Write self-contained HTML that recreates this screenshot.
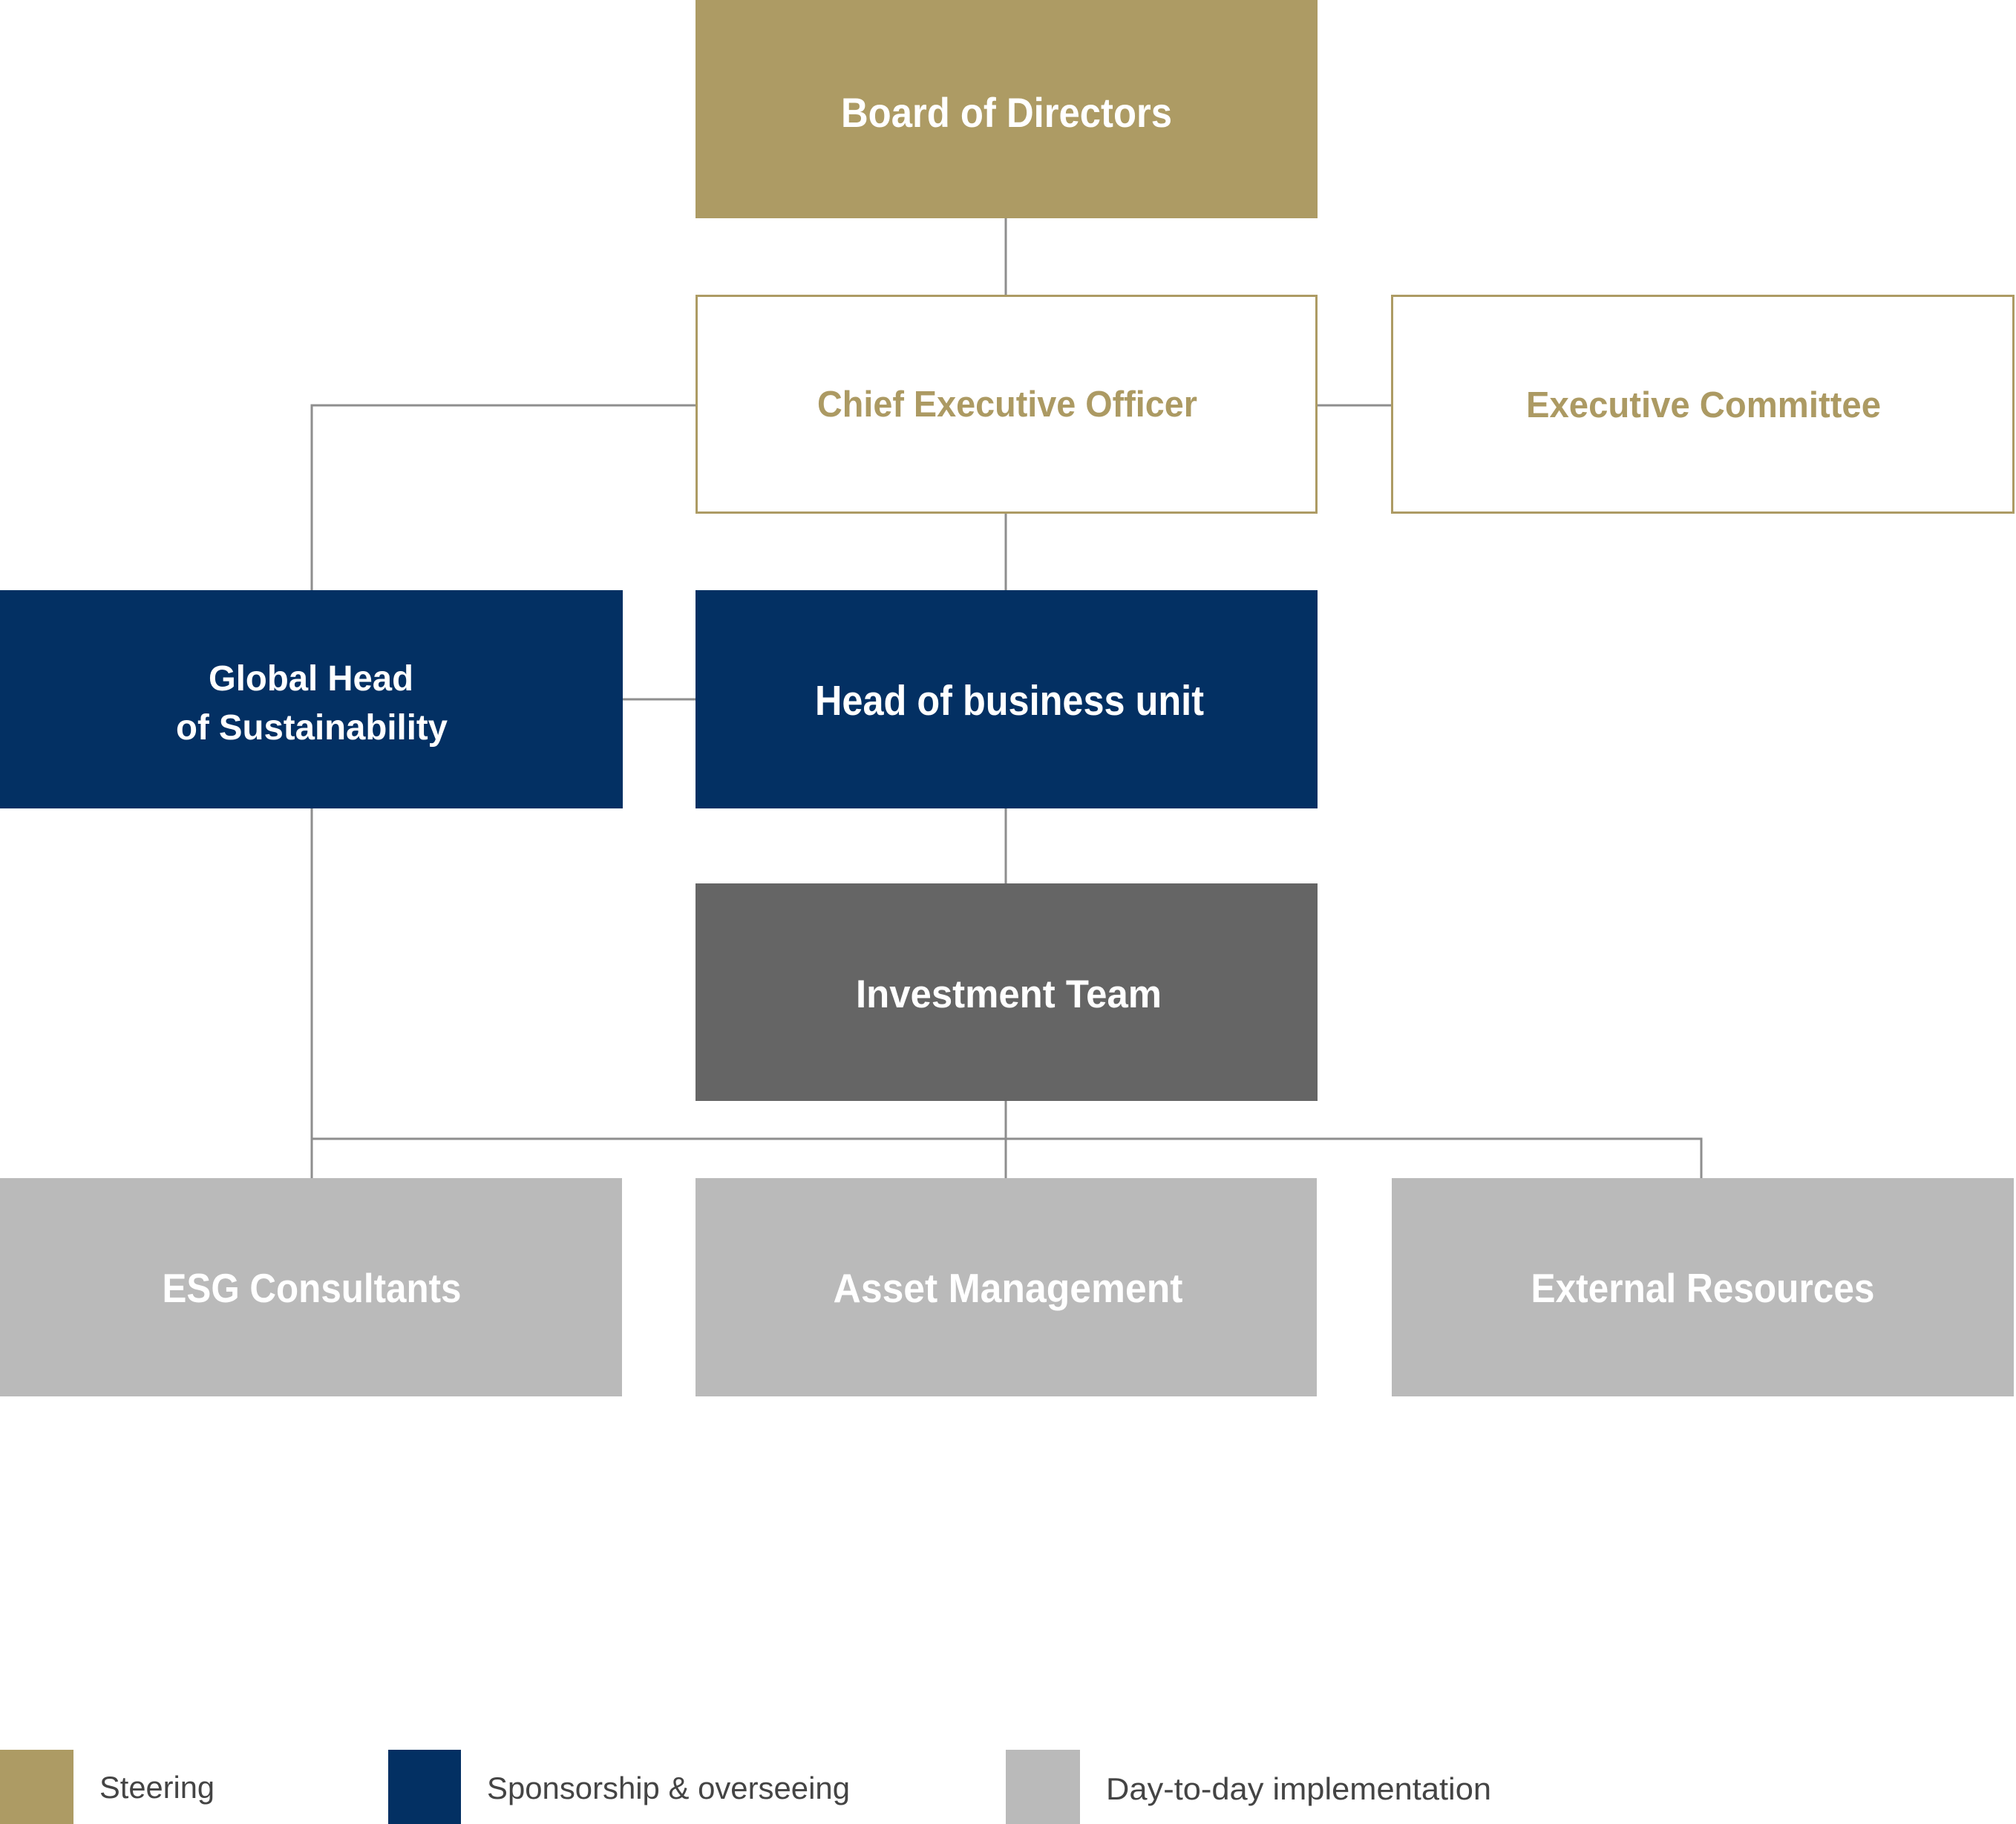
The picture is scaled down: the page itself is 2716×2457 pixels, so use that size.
<!DOCTYPE html>
<html>
<head>
<meta charset="utf-8">
<style>
html,body{margin:0;padding:0;background:#fff;}
svg{display:block;}
text{font-family:"Liberation Sans",Arial,sans-serif;}
</style>
</head>
<body>
<svg width="2716" height="2457" viewBox="0 0 2716 2457" xmlns="http://www.w3.org/2000/svg">
<rect x="0" y="0" width="2716" height="2457" fill="#ffffff"/>
<!-- connectors -->
<g stroke="#8e8e8e" stroke-width="3" fill="none">
  <line x1="1355" y1="294" x2="1355" y2="398"/>
  <polyline points="937,546 420,546 420,795"/>
  <line x1="1775" y1="546" x2="1875" y2="546"/>
  <line x1="1355" y1="691" x2="1355" y2="795"/>
  <line x1="838" y1="942" x2="937" y2="942"/>
  <line x1="1355" y1="1089" x2="1355" y2="1190"/>
  <line x1="420" y1="1089" x2="420" y2="1587"/>
  <line x1="1355" y1="1483" x2="1355" y2="1587"/>
  <polyline points="420,1534 2292,1534 2292,1587"/>
</g>
<!-- boxes -->
<rect x="937" y="0" width="838" height="294" fill="#ad9b64"/>
<rect x="938.5" y="398.5" width="835" height="292" fill="#ffffff" stroke="#ad9b64" stroke-width="3"/>
<rect x="1875.5" y="398.5" width="837" height="292" fill="#ffffff" stroke="#ad9b64" stroke-width="3"/>
<rect x="0" y="795" width="839" height="294" fill="#033063"/>
<rect x="937" y="795" width="838" height="294" fill="#033063"/>
<rect x="937" y="1190" width="838" height="293" fill="#656565"/>
<rect x="0" y="1587" width="838" height="294" fill="#bababa"/>
<rect x="937" y="1587" width="837" height="294" fill="#bababa"/>
<rect x="1875" y="1587" width="838" height="294" fill="#bababa"/>
<!-- labels -->
<g font-weight="bold" text-anchor="middle">
  <text x="1356" y="171" font-size="56" fill="#ffffff" textLength="446" lengthAdjust="spacingAndGlyphs">Board of Directors</text>
  <text x="1357" y="561" font-size="49" fill="#ac9a63" textLength="512" lengthAdjust="spacingAndGlyphs">Chief Executive Officer</text>
  <text x="2295" y="562" font-size="49" fill="#ac9a63" textLength="478" lengthAdjust="spacingAndGlyphs">Executive Committee</text>
  <text x="419" y="930" font-size="48" fill="#ffffff" textLength="276" lengthAdjust="spacingAndGlyphs">Global Head</text>
  <text x="420" y="996" font-size="48" fill="#ffffff" textLength="366" lengthAdjust="spacingAndGlyphs">of Sustainability</text>
  <text x="1360" y="963" font-size="57" fill="#ffffff" textLength="524" lengthAdjust="spacingAndGlyphs">Head of business unit</text>
  <text x="1359" y="1357" font-size="53" fill="#ffffff" textLength="412" lengthAdjust="spacingAndGlyphs">Investment Team</text>
  <text x="420" y="1754" font-size="55" fill="#ffffff" textLength="403" lengthAdjust="spacingAndGlyphs">ESG Consultants</text>
  <text x="1358" y="1754" font-size="55" fill="#ffffff" textLength="471" lengthAdjust="spacingAndGlyphs">Asset Management</text>
  <text x="2294" y="1754" font-size="55" fill="#ffffff" textLength="463" lengthAdjust="spacingAndGlyphs">External Resources</text>
</g>
<!-- legend -->
<rect x="0" y="2357" width="99" height="100" fill="#ad9b64"/>
<rect x="523" y="2357" width="98" height="100" fill="#033063"/>
<rect x="1355" y="2357" width="100" height="100" fill="#bababa"/>
<g font-size="42" fill="#444444">
  <text x="134" y="2422" textLength="155" lengthAdjust="spacingAndGlyphs">Steering</text>
  <text x="656" y="2423" textLength="489" lengthAdjust="spacingAndGlyphs">Sponsorship &amp; overseeing</text>
  <text x="1490" y="2424" textLength="519" lengthAdjust="spacingAndGlyphs">Day-to-day implementation</text>
</g>
</svg>
</body>
</html>
